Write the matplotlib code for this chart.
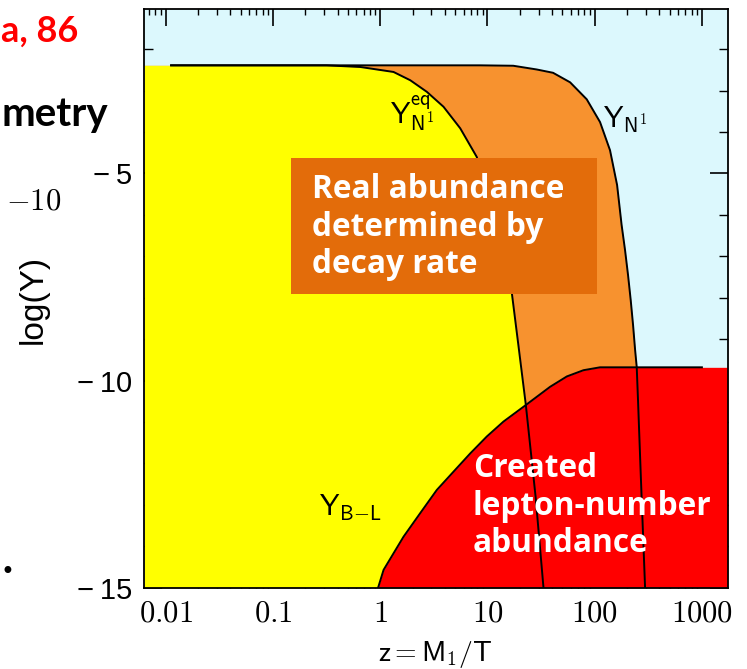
import matplotlib
matplotlib.use("Agg")
import matplotlib.pyplot as plt
from matplotlib.patches import Rectangle
from matplotlib.ticker import FixedLocator, NullFormatter
import numpy as np

# ---- data (z, log10 Y) ----
z_eq = [0.0112, 0.1, 0.316, 0.653, 1.33, 1.905, 2.72, 3.89, 5.57, 7.94, 10.0,
        12.6, 16.9, 19.5, 22.8, 28.1, 33.3]
logY_eq = [-2.39, -2.39, -2.39, -2.43, -2.55, -2.75, -3.03, -3.39, -3.91, -4.6,
           -5.35, -6.3, -7.9, -9.18, -10.59, -12.8, -15.0]

z_N = [0.0112, 0.1, 1.0, 8.5, 17.4, 28.8, 40.9, 59.0, 84.3, 112.2, 139.0,
       161.8, 178.2, 191.9, 204.6, 216.8, 228.0, 238.2, 246.6, 253.5, 269.2, 295.1]
logY_N = [-2.39, -2.39, -2.39, -2.39, -2.40, -2.49, -2.57, -2.80, -3.21, -3.76,
          -4.44, -5.28, -6.24, -6.85, -7.45, -8.06, -8.66, -9.26, -9.67, -10.47,
          -12.3, -15.0]

z_BL = [0.955, 1.074, 1.648, 2.36, 3.37, 4.82, 6.90, 9.86, 14.1, 22.8, 38.4,
        55.0, 78.5, 112.0, 1000.0]
logY_BL = [-15.0, -14.57, -13.77, -13.2, -12.64, -12.2, -11.76, -11.35, -10.99,
           -10.59, -10.15, -9.9, -9.75, -9.68, -9.68]

xticks = [0.01, 0.1, 1, 10, 100, 1000]
xticklabels = ["0.01", "0.1", "1", "10", "100", "1000"]
yticks = [-5, -10, -15]
yticklabels = ["\u2212\u20095", "\u2212\u200910", "\u2212\u200915"]

XMIN, XMAX = 0.0063, 1740
YMIN, YMAX = -15, -1.03

C_BG = "#dcf8fd"
C_ORANGE = "#f7922f"
C_YELLOW = "#ffff00"
C_RED = "#ff0000"
C_BOX = "#e36c0a"

plt.rcParams["mathtext.fontset"] = "cm"

fig = plt.figure(figsize=(7.47, 6.69), dpi=100)
ax = fig.add_axes([144.3 / 747, 1 - 587.7 / 669, (727.7 - 144.3) / 747, (587.7 - 9) / 669])
ax.set_xscale("log")
ax.set_xlim(XMIN, XMAX)
ax.set_ylim(YMIN, YMAX)
ax.set_facecolor(C_BG)

# fills
zN_f = np.concatenate([[XMIN], z_N])
yN_f = np.concatenate([[logY_N[0]], logY_N])
ax.fill_between(zN_f, yN_f, YMIN, color=C_ORANGE, lw=0, zorder=1)
zE_f = np.concatenate([[XMIN], z_eq])
yE_f = np.concatenate([[logY_eq[0]], logY_eq])
ax.fill_between(zE_f, yE_f, YMIN, color=C_YELLOW, lw=0, zorder=2)
zB_f = np.concatenate([z_BL, [XMAX]])
yB_f = np.concatenate([logY_BL, [logY_BL[-1]]])
ax.fill_between(zB_f, yB_f, YMIN, color=C_RED, lw=0, zorder=3)

# lines
ax.plot(z_eq, logY_eq, color="black", lw=1.4, zorder=4)
ax.plot(z_N, logY_N, color="black", lw=1.4, zorder=4)
ax.plot(z_BL, logY_BL, color="black", lw=1.4, zorder=4)

# ticks
ax.xaxis.set_major_locator(FixedLocator(xticks))
minors = [m * 10.0 ** e for e in range(-3, 4) for m in range(2, 10)]
ax.xaxis.set_minor_locator(FixedLocator(minors))
ax.xaxis.set_minor_formatter(NullFormatter())
ax.set_xticklabels([r"$%s$" % t for t in xticklabels], fontsize=22)
ax.yaxis.set_major_locator(FixedLocator(yticks))
ax.yaxis.set_minor_locator(FixedLocator(list(range(-14, -1))))
ax.set_yticklabels(yticklabels, fontsize=21, family="Liberation Sans")
ax.tick_params(axis="x", which="major", direction="in", length=12, width=1.2,
               top=True, bottom=True, pad=8)
ax.tick_params(axis="x", which="minor", direction="in", length=4.5, width=1.0,
               top=True, bottom=True)
ax.tick_params(axis="y", which="major", direction="in", length=13, width=1.2,
               left=True, right=True, pad=9)
ax.tick_params(axis="y", which="minor", direction="in", length=6.5, width=1.0,
               left=True, right=True)
for s in ax.spines.values():
    s.set_linewidth(1.3)
    s.set_zorder(6)

# curve labels
ax.text(10 ** ((390 - 380) / 107.3), -5 - (123 - 173.3) / 41.45,
        r"$\mathsf{Y^{eq}_{N^1}}$", fontsize=21, zorder=5, va="baseline")
ax.text(10 ** ((603 - 380) / 107.3), -5 - (128 - 173.3) / 41.45,
        r"$\mathsf{Y_{N^1}}$", fontsize=21, zorder=5, va="baseline")
ax.text(10 ** ((319 - 380) / 107.3), -5 - (516 - 173.3) / 41.45,
        r"$\mathsf{Y_{B{-}L}}$", fontsize=21, zorder=5, va="baseline")

# axis labels
fig.text(33.3 / 747, 1 - 299 / 669, "log(Y)", rotation=90, fontsize=24,
         family="Liberation Sans", ha="center", va="center")
fig.text(435 / 747, 1 - 655 / 669, r"$\mathsf{z = M_1/T}$", fontsize=20,
         ha="center", va="center")

# annotation box
fig.patches.append(Rectangle((291 / 747, 1 - 294 / 669), 306 / 747, 136 / 669,
                             transform=fig.transFigure, facecolor=C_BOX,
                             edgecolor="none", zorder=5))
for txt, yb in [("Real abundance", 198.3), ("determined by", 236), ("decay rate", 273.3)]:
    fig.text(311.7 / 747, 1 - yb / 669, txt, color="white", fontsize=22.8,
             family="Open Sans", weight="bold", va="baseline", ha="left", zorder=6)
for txt, yb in [("Created", 476.7), ("lepton-number", 515), ("abundance", 551.7)]:
    fig.text(472.7 / 747, 1 - yb / 669, txt, color="white", fontsize=22.8,
             family="Open Sans", weight="bold", va="baseline", ha="left", zorder=6)

# slide fragments at left
fig.text(1 / 747, 1 - 42 / 669, "a, 86", color="#ff0000", fontsize=26,
         family="Lato", weight="bold", ha="left", va="baseline")
fig.text(1 / 747, 1 - 126 / 669, "metry", color="black", fontsize=29,
         family="Lato", weight="bold", ha="left", va="baseline")
fig.text(61 / 747, 1 - 210 / 669, r"$-10$", color="black", fontsize=22,
         ha="right", va="baseline")
fig.text(1 / 747, 1 - 572 / 669, "\u2022", color="black", fontsize=17,
         ha="left", va="center")

fig.savefig("out.png", dpi=100)
